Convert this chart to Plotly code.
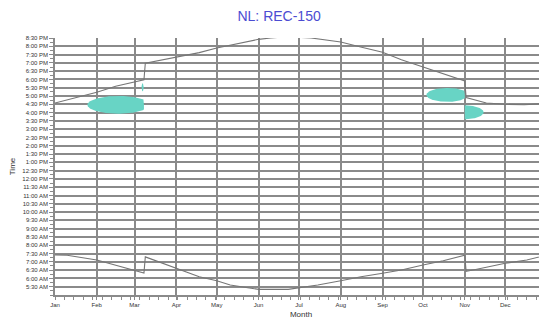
import numpy as np
import pandas as pd
import plotly.graph_objects as go

# ---------------- data ----------------
month_ticks = ["2025-01-01", "2025-02-01", "2025-03-01", "2025-04-01", "2025-05-01",
               "2025-06-01", "2025-07-01", "2025-08-01", "2025-09-01", "2025-10-01",
               "2025-11-01", "2025-12-01", "2026-01-01"]
month_labels = ["Jan", "Feb", "Mar", "Apr", "May", "Jun", "Jul", "Aug", "Sep", "Oct",
                "Nov", "Dec", "Jan"]

time_tick_values = [5.5 + 0.5 * i for i in range(31)]
time_tick_labels = ["5:30 AM", "6:00 AM", "6:30 AM", "7:00 AM", "7:30 AM", "8:00 AM",
                    "8:30 AM", "9:00 AM", "9:30 AM", "10:00 AM", "10:30 AM", "11:00 AM",
                    "11:30 AM", "12:00 PM", "12:30 PM", "1:00 PM", "1:30 PM", "2:00 PM",
                    "2:30 PM", "3:00 PM", "3:30 PM", "4:00 PM", "4:30 PM", "5:00 PM",
                    "5:30 PM", "6:00 PM", "6:30 PM", "7:00 PM", "7:30 PM", "8:00 PM",
                    "8:30 PM"]

sunset_dates = ["2025-01-01", "2025-01-15", "2025-02-01", "2025-02-15", "2025-03-08",
                "2025-03-09", "2025-04-01", "2025-04-18", "2025-05-01", "2025-05-18",
                "2025-06-01", "2025-06-10", "2025-06-22", "2025-07-10", "2025-07-20",
                "2025-08-01", "2025-08-15", "2025-09-01", "2025-09-15", "2025-10-01",
                "2025-10-15", "2025-11-01", "2025-11-02", "2025-11-17", "2025-12-01",
                "2025-12-15", "2025-12-31"]
sunset_hours = [16.58, 16.88, 17.23, 17.59, 17.98,
                18.98, 19.34, 19.62, 19.90, 20.18,
                20.42, 20.50, 20.58, 20.50, 20.40,
                20.26, 19.97, 19.64, 19.19, 18.75,
                18.40, 17.91, 16.91, 16.58, 16.50,
                16.47, 16.55]

sunrise_dates = ["2025-01-01", "2025-01-10", "2025-02-01", "2025-03-08", "2025-03-09",
                 "2025-04-01", "2025-04-18", "2025-05-01", "2025-05-11", "2025-05-24",
                 "2025-06-01", "2025-06-23", "2025-07-01", "2025-07-15", "2025-08-01",
                 "2025-08-16", "2025-09-01", "2025-09-15", "2025-10-01", "2025-10-16",
                 "2025-11-01", "2025-11-02", "2025-11-17", "2025-12-01", "2025-12-17",
                 "2025-12-31"]
sunrise_hours = [7.41, 7.40, 7.11, 6.32, 7.30,
                 6.61, 6.10, 5.86, 5.60, 5.44,
                 5.34, 5.34, 5.44, 5.60, 5.86,
                 6.10, 6.31, 6.51, 6.81, 7.07,
                 7.40, 6.42, 6.67, 6.91, 7.11,
                 7.39]

# detection clusters: centre date, half width (days), centre hour, half height (h), clip window
cluster_center = ["2025-02-17", "2025-10-19", "2025-11-01", "2025-03-07"]
cluster_half_days = [23.0, 15.5, 14.0, 0.8]
cluster_center_hour = [16.47, 17.07, 16.02, 17.53]
cluster_half_hours = [0.54, 0.42, 0.42, 0.24]
cluster_clip_start = ["2025-01-01", "2025-01-01", "2025-11-01", "2025-01-01"]
cluster_clip_end = ["2025-03-08", "2025-11-01", "2026-01-01", "2026-01-01"]

# ---------------- figure ----------------
TEAL = "#68d4c5"
GRID = "#8a8a8a"
LINE = "#767676"
FONT = "Liberation Sans, Arial, sans-serif"

fig = go.Figure()

t = np.linspace(0, 2 * np.pi, 181)
for c, hw, ch, hh, cs, ce in zip(cluster_center, cluster_half_days, cluster_center_hour,
                                 cluster_half_hours, cluster_clip_start, cluster_clip_end):
    c0 = pd.Timestamp(c)
    lo = (pd.Timestamp(cs) - c0) / pd.Timedelta(days=1)
    hi = (pd.Timestamp(ce) - c0) / pd.Timedelta(days=1)
    dx = np.clip(hw * np.cos(t), lo, hi)
    yy = ch + hh * np.sin(t)
    xx = c0 + pd.to_timedelta(dx, unit="D")
    fig.add_trace(go.Scatter(x=xx, y=yy, mode="lines", fill="toself", fillcolor=TEAL,
                             line=dict(width=0, color=TEAL), hoverinfo="skip",
                             showlegend=False))

fig.add_trace(go.Scatter(x=pd.to_datetime(sunset_dates), y=sunset_hours, mode="lines",
                         line=dict(color=LINE, width=1.1), showlegend=False))
fig.add_trace(go.Scatter(x=pd.to_datetime(sunrise_dates), y=sunrise_hours, mode="lines",
                         line=dict(color=LINE, width=1.1), showlegend=False))

# the page body has an 8px margin, so the figure is sized to end at the window edge
fig.update_layout(
    width=539, height=312,
    margin=dict(l=47, r=0, t=30, b=25),
    paper_bgcolor="white", plot_bgcolor="white",
    font=dict(family=FONT, color="#333333"),
    title=dict(text="NL: REC-150", x=0.503, xanchor="center", y=0.99, yanchor="top",
               xref="container", yref="container",
               font=dict(size=14, color="#4c4cd2", family=FONT)),
)

fig.update_xaxes(
    type="date", range=["2025-01-01", "2026-01-01"],
    tickmode="array", tickvals=month_ticks, ticktext=month_labels,
    tickfont=dict(size=6, color="#333333"),
    ticks="outside", ticklen=3, tickcolor=GRID,
    showgrid=True, gridcolor=GRID, gridwidth=1.5,
    showline=True, linecolor=GRID, linewidth=1.5,
    minor=dict(dtick=7 * 86400000, tick0="2025-01-08", ticks="outside", ticklen=3,
               tickcolor=GRID, showgrid=False),
    title=dict(text="Month", font=dict(size=8, color="#333333"), standoff=4),
    automargin=False, zeroline=False,
)
fig.update_yaxes(
    range=[5.0, 20.5],
    tickmode="array", tickvals=time_tick_values, ticktext=time_tick_labels,
    tickfont=dict(size=6, color="#333333"),
    ticks="outside", ticklen=4, tickcolor=GRID,
    showgrid=True, gridcolor=GRID, gridwidth=1.5,
    showline=True, linecolor=GRID, linewidth=1.5,
    minor=dict(dtick=0.25, tick0=5.0, ticks="outside", ticklen=3, tickcolor=GRID,
               showgrid=False),
    title=dict(text="Time", font=dict(size=8, color="#333333"), standoff=6),
    automargin=False, zeroline=False,
)

fig.write_html("out.html")
